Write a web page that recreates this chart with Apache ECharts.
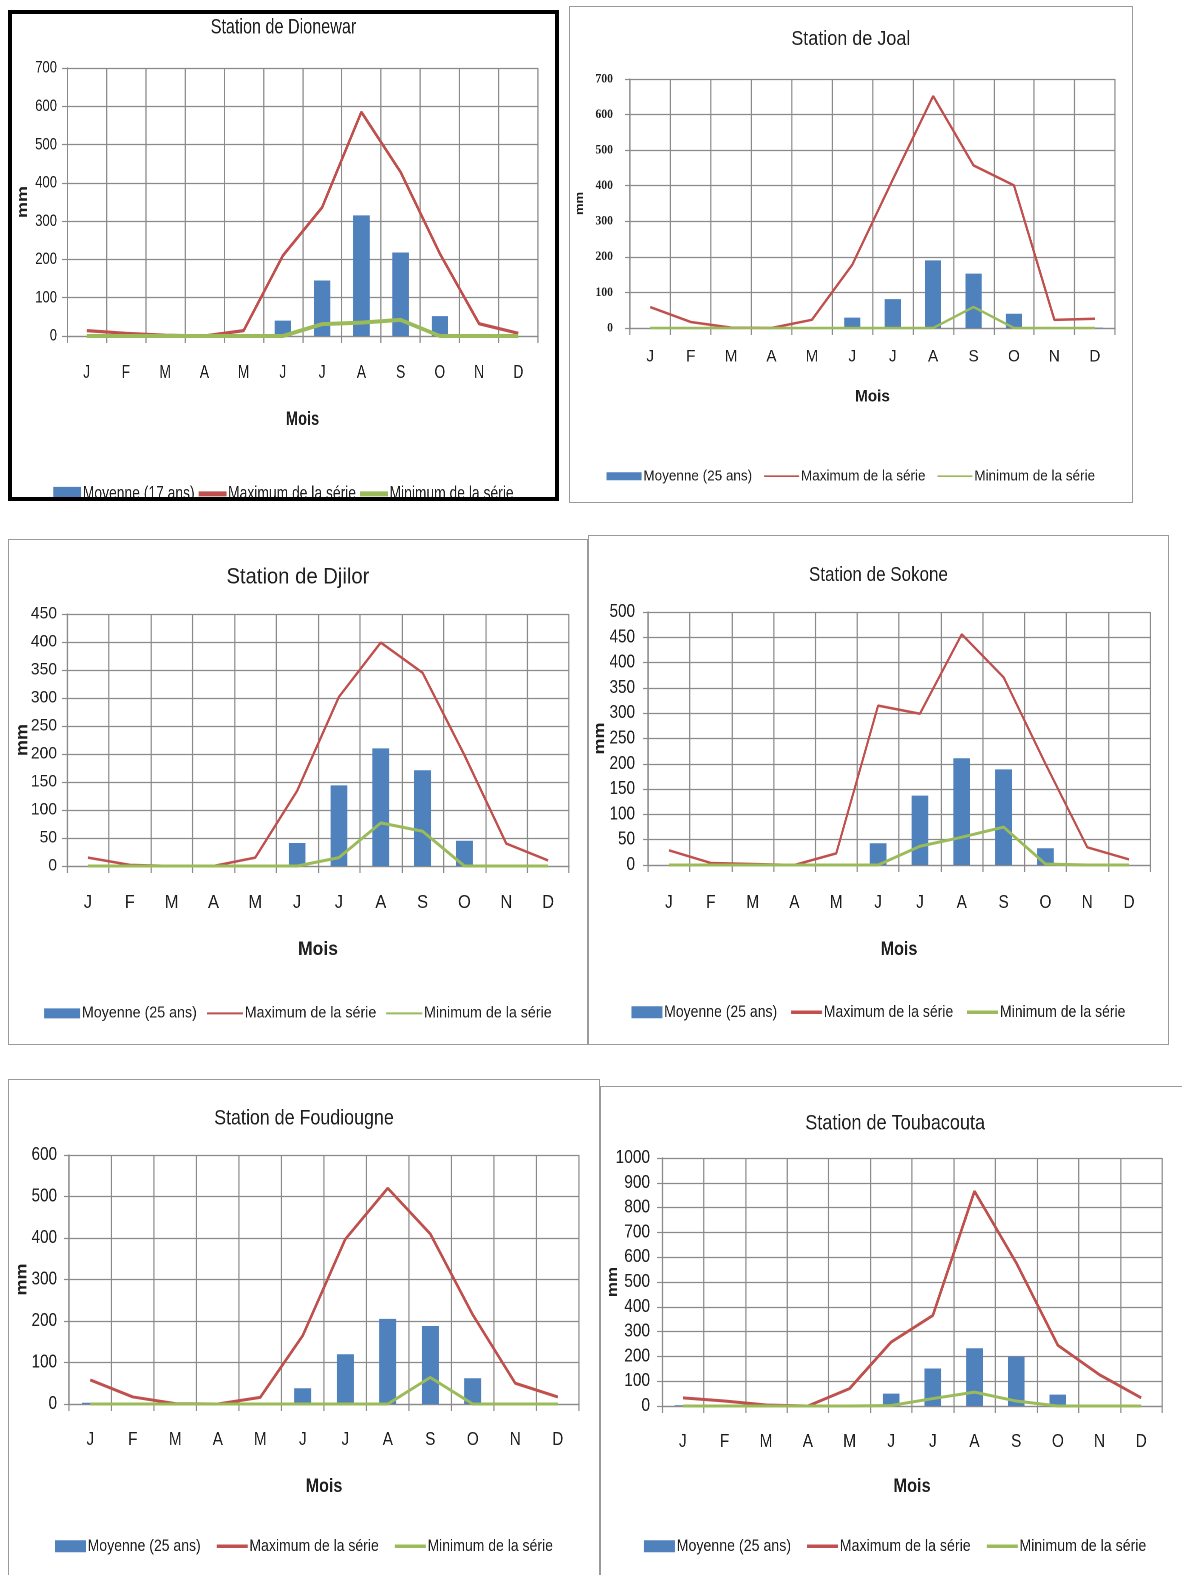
<!DOCTYPE html>
<html>
<head>
<meta charset="utf-8">
<title>Pluviométrie mensuelle des stations</title>
<script src="https://cdn.jsdelivr.net/npm/echarts@6/dist/echarts.min.js"></script>
<style>
  html, body { margin: 0; padding: 0; background: #fff; }
  body { position: relative; width: 1182px; height: 1575px; overflow: hidden; }
  .panel { position: absolute; box-sizing: border-box; background: #fff; overflow: hidden; }
  .canvas { position: absolute; left: 0; top: 0; transform-origin: 0 0; }
</style>
</head>
<body>
<div id="dionewar" class="panel"><div class="canvas"></div></div>
<div id="joal" class="panel"><div class="canvas"></div></div>
<div id="djilor" class="panel"><div class="canvas"></div></div>
<div id="sokone" class="panel"><div class="canvas"></div></div>
<div id="foudiougne" class="panel"><div class="canvas"></div></div>
<div id="toubacouta" class="panel"><div class="canvas"></div></div>
<script>
// Month labels (J F M A M J J A S O N D)
const months = ['J', 'F', 'M', 'A', 'M', 'J', 'J', 'A', 'S', 'O', 'N', 'D'];

// Monthly rainfall in mm: mean, series maximum, series minimum
const dionewarMean = [0, 0, 0, 0, 0, 40, 145, 315, 218, 52, 0, 0];
const dionewarMax  = [14, 7, 2, 0, 14, 210, 336, 585, 428, 215, 32, 7];
const dionewarMin  = [0, 0, 0, 0, 0, 0, 31, 35, 42, 0, 0, 0];

const joalMean = [0, 0, 0, 0, 0, 29, 81, 190, 153, 40, 0, 1];
const joalMax  = [59, 17, 1, 0, 23, 178, 417, 652, 457, 401, 23, 26];
const joalMin  = [0, 0, 0, 0, 0, 0, 0, 0, 59, 0, 0, 0];

const djilorMean = [0, 0, 0, 0, 0, 41, 144, 210, 171, 45, 0, 0];
const djilorMax  = [15, 2, 0, 0, 15, 134, 302, 399, 345, 198, 40, 10];
const djilorMin  = [0, 0, 0, 0, 0, 0, 15, 77, 62, 0, 0, 0];

const sokoneMean = [0, 0, 0, 0, 0, 43, 137, 211, 189, 33, 0, 0];
const sokoneMax  = [29, 4, 2, 0, 23, 315, 299, 456, 371, 200, 35, 11];
const sokoneMin  = [0, 0, 0, 0, 0, 0, 37, 55, 75, 2, 0, 0];

const foudiougneMean = [3, 0, 0, 0, 0, 38, 120, 205, 188, 62, 0, 0];
const foudiougneMax  = [58, 17, 1, 0, 16, 165, 397, 520, 410, 215, 50, 17];
const foudiougneMin  = [0, 0, 0, 0, 0, 0, 0, 0, 64, 0, 0, 0];

const toubacoutaMean = [3, 0, 0, 0, 0, 50, 151, 233, 199, 46, 0, 0];
const toubacoutaMax  = [33, 20, 4, 0, 70, 258, 365, 866, 578, 245, 126, 33];
const toubacoutaMin  = [0, 0, 0, 0, 0, 2, 30, 56, 20, 0, 0, 0];

// Y-axis ranges [max, interval] per station
const dionewarAxis   = [700, 100];
const joalAxis       = [700, 100];
const djilorAxis     = [450, 50];
const sokoneAxis     = [500, 50];
const foudiougneAxis = [600, 100];
const toubacoutaAxis = [1000, 100];

const BLUE = '#4F81BD', RED = '#C0504D', GREEN = '#9BBB59', GRID = '#8a8a8a', INK = '#1f1f1f';
const SANS = "'Liberation Sans', Arial, sans-serif";

// Panel layout on the page. sx = horizontal text condensing of the panel.
const stations = [
  { id: 'dionewar', title: 'Station de Dionewar', period: 'Moyenne (17 ans)',
    mean: dionewarMean, max: dionewarMax, min: dionewarMin, axis: dionewarAxis,
    box: [8, 10, 551, 491], bw: 4, bc: '#000', plot: [67, 68, 538, 336], sx: 0.77,
    titleY: 25, titleSize: 21, labelY: 373, xLabelSize: 18, moisY: 419, moisSize: 19, mmX: 23, mmSize: 18,
    yLabelRight: 57, tickSize: 17, tickFont: SANS, tickWeight: 'normal',
    legendY: 491, legendSize: 18, itemW: 28, itemH: 14, legendLineW: 5, legendGap: 4,
    redW: 3.2, greenW: 4, barW: '42%' },
  { id: 'joal', title: 'Station de Joal', period: 'Moyenne (25 ans)',
    mean: joalMean, max: joalMax, min: joalMin, axis: joalAxis,
    box: [569, 6, 564, 497], bw: 1, bc: '#9a9a9a', plot: [630, 79, 1115, 328], sx: 0.9,
    titleY: 37, titleSize: 20, labelY: 357, xLabelSize: 17, moisY: 396, moisSize: 17, mmX: 580, mmSize: 13,
    yLabelRight: 613, tickSize: 13, tickFont: "'Liberation Serif', serif", tickWeight: 'bold',
    legendY: 473, legendSize: 15, itemW: 35, itemH: 8, legendLineW: 1.6, legendGap: 12,
    redW: 2.5, greenW: 2.5, barW: '40%' },
  { id: 'djilor', title: 'Station de Djilor', period: 'Moyenne (25 ans)',
    mean: djilorMean, max: djilorMax, min: djilorMin, axis: djilorAxis,
    box: [8, 539, 580, 506], bw: 1, bc: '#9a9a9a', plot: [67, 614, 569, 866], sx: 0.92,
    titleY: 575, titleSize: 22, labelY: 903, xLabelSize: 18, moisY: 949, moisSize: 19, mmX: 23, mmSize: 18,
    yLabelRight: 57, tickSize: 17, tickFont: SANS, tickWeight: 'normal',
    legendY: 1010, legendSize: 15.5, itemW: 36, itemH: 10, legendLineW: 2, legendGap: 10,
    redW: 2.5, greenW: 3, barW: '40%' },
  { id: 'sokone', title: 'Station de Sokone', period: 'Moyenne (25 ans)',
    mean: sokoneMean, max: sokoneMax, min: sokoneMin, axis: sokoneAxis,
    box: [588, 535, 581, 510], bw: 1, bc: '#9a9a9a', plot: [648, 612, 1150, 865], sx: 0.85,
    titleY: 573, titleSize: 20, labelY: 903, xLabelSize: 18, moisY: 949, moisSize: 19, mmX: 600, mmSize: 18,
    yLabelRight: 635, tickSize: 18, tickFont: SANS, tickWeight: 'normal',
    legendY: 1009, legendSize: 16.5, itemW: 31, itemH: 12, legendLineW: 3.5, legendGap: 14,
    redW: 2.5, greenW: 3, barW: '40%' },
  { id: 'foudiougne', title: 'Station de Foudiougne', period: 'Moyenne (25 ans)',
    mean: foudiougneMean, max: foudiougneMax, min: foudiougneMin, axis: foudiougneAxis,
    box: [8, 1079, 592, 510], bw: 1, bc: '#9a9a9a', plot: [69, 1155, 579, 1404], sx: 0.85,
    titleY: 1116, titleSize: 21, labelY: 1440, xLabelSize: 18, moisY: 1486, moisSize: 19, mmX: 22, mmSize: 18,
    yLabelRight: 57, tickSize: 18, tickFont: SANS, tickWeight: 'normal',
    legendY: 1543, legendSize: 16.5, itemW: 31, itemH: 12, legendLineW: 3.5, legendGap: 16,
    redW: 3, greenW: 3, barW: '40%' },
  { id: 'toubacouta', title: 'Station de Toubacouta', period: 'Moyenne (25 ans)',
    mean: toubacoutaMean, max: toubacoutaMax, min: toubacoutaMin, axis: toubacoutaAxis,
    box: [600, 1086, 590, 510], bw: 1, bc: '#9a9a9a', plot: [662, 1158, 1162, 1406], sx: 0.86,
    titleY: 1121, titleSize: 21, labelY: 1442, xLabelSize: 18, moisY: 1486, moisSize: 19, mmX: 613, mmSize: 17,
    yLabelRight: 650, tickSize: 18, tickFont: SANS, tickWeight: 'normal',
    legendY: 1543, legendSize: 16.5, itemW: 31, itemH: 12, legendLineW: 3.5, legendGap: 16,
    redW: 3, greenW: 3, barW: '40%' }
];

stations.forEach(s => {
  const [bx, by, bwid, bh] = s.box;
  const panel = document.getElementById(s.id);
  Object.assign(panel.style, {
    left: bx + 'px', top: by + 'px', width: bwid + 'px', height: bh + 'px',
    border: s.bw + 'px solid ' + s.bc
  });
  const innerW = bwid - 2 * s.bw, innerH = bh - 2 * s.bw;
  const sx = s.sx;
  const holder = panel.querySelector('.canvas');
  Object.assign(holder.style, {
    width: (innerW / sx) + 'px', height: innerH + 'px', transform: 'scaleX(' + sx + ')'
  });

  const ox = bx + s.bw, oy = by + s.bw;   // page position of the canvas origin
  const [pl, pt, pr, pb] = s.plot;
  const chart = echarts.init(holder, null, { renderer: 'canvas', devicePixelRatio: 2 });
  const maxName = 'Maximum de la série', minName = 'Minimum de la série';
  const lw = s.legendLineW;
  const lineIcon = 'path://M0,0L' + s.itemW + ',0L' + s.itemW + ',' + (lw * sx) + 'L0,' + (lw * sx) + 'Z';
  const vline = 1.2 / sx;   // vertical rules keep their page width after condensing

  chart.setOption({
    animation: false,
    backgroundColor: '#fff',
    title: {
      text: s.title, left: 'center', top: s.titleY - oy - s.titleSize * 0.62,
      textStyle: { fontFamily: SANS, fontSize: s.titleSize, fontWeight: 'normal', color: INK }
    },
    legend: {
      data: [
        { name: s.period, icon: 'rect' },
        { name: maxName, icon: lineIcon },
        { name: minName, icon: lineIcon }
      ],
      left: 'center', top: s.legendY - oy - s.legendSize * 0.62,
      itemGap: s.legendGap / sx, itemWidth: s.itemW / sx, itemHeight: s.itemH,
      symbolKeepAspect: true,
      textStyle: { fontFamily: SANS, fontSize: s.legendSize, color: INK, padding: [0, 0, 0, -3] }
    },
    grid: {
      left: (pl - ox) / sx, top: pt - oy, width: (pr - pl) / sx, height: pb - pt,
      outerBoundsMode: 'none', containLabel: false, show: false
    },
    xAxis: {
      type: 'category', data: months, boundaryGap: true,
      name: 'Mois', nameLocation: 'middle', nameGap: s.moisY - pb - s.moisSize * 0.45,
      nameTextStyle: { fontFamily: SANS, fontSize: s.moisSize, fontWeight: 'bold', color: INK },
      axisLine: { lineStyle: { color: GRID, width: 1.2 } },
      axisTick: { show: true, length: 7, lineStyle: { color: GRID, width: vline } },
      axisLabel: {
        margin: s.labelY - pb - s.xLabelSize * 0.5, fontFamily: SANS, fontSize: s.xLabelSize, color: INK
      },
      splitLine: { show: true, lineStyle: { color: GRID, width: vline } }
    },
    yAxis: {
      type: 'value', min: 0, max: s.axis[0], interval: s.axis[1],
      name: 'mm', nameLocation: 'middle', nameRotate: 90, nameMoveOverlap: false,
      nameGap: (pl - s.mmX) / sx - s.mmSize * 0.5,
      nameTextStyle: { fontFamily: SANS, fontSize: s.mmSize, fontWeight: 'bold', color: INK },
      axisLine: { show: true, lineStyle: { color: GRID, width: vline } },
      axisTick: { show: true, length: 5 / sx, lineStyle: { color: GRID, width: 1.2 } },
      axisLabel: {
        margin: (pl - s.yLabelRight) / sx, fontFamily: s.tickFont, fontSize: s.tickSize,
        fontWeight: s.tickWeight, color: INK, formatter: v => String(v)
      },
      splitLine: { show: true, lineStyle: { color: GRID, width: 1.2 } }
    },
    series: [
      {
        name: s.period, type: 'bar', data: s.mean, barWidth: s.barW,
        itemStyle: { color: BLUE }
      },
      {
        name: maxName, type: 'line', data: s.max, symbol: 'none',
        lineStyle: { color: RED, width: s.redW }, itemStyle: { color: RED }
      },
      {
        name: minName, type: 'line', data: s.min, symbol: 'none',
        lineStyle: { color: GREEN, width: s.greenW }, itemStyle: { color: GREEN }
      }
    ]
  });
});
</script>
</body>
</html>
